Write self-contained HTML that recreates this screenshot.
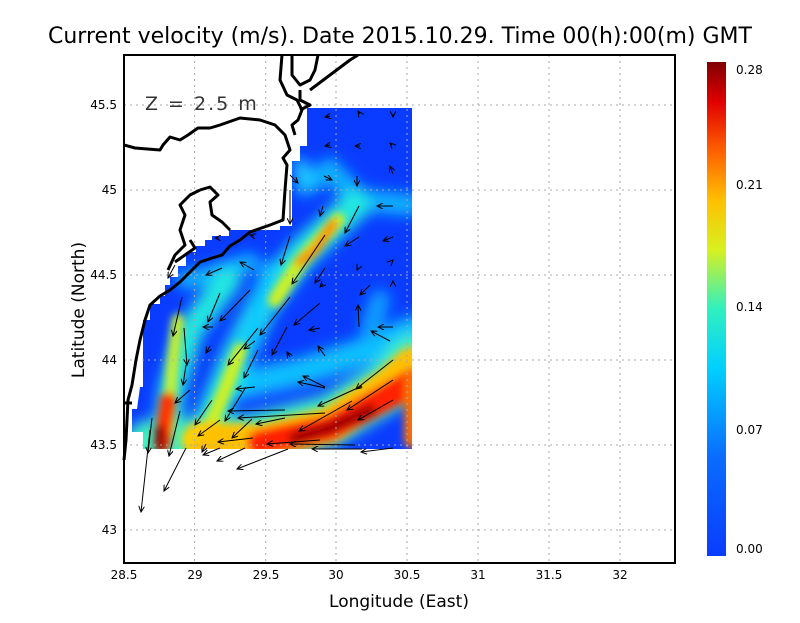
<!DOCTYPE html>
<html><head><style>
body{margin:0;background:#fff;}
svg text{font-family:"DejaVu Sans","Liberation Sans",sans-serif;}
</style></head><body>
<svg width="800" height="618" viewBox="0 0 800 618" xmlns="http://www.w3.org/2000/svg">
<defs>
<clipPath id="dc"><polygon points="307,108 412,108 412,449 143,449 143,432 132,432 132,409 137,409 140,387 143,387 143,320 150,320 150,304 160,304 160,296 165,296 165,285 170,285 170,277 178,277 178,266 186,266 186,252 196,252 196,246 205,246 205,240 212,240 212,236 229,236 229,230 280,230 280,226 292,226 292,161 300,161 300,146 307,146"/></clipPath>
<filter id="b1" x="-50%" y="-50%" width="200%" height="200%"><feGaussianBlur stdDeviation="7"/></filter>
<filter id="b2" x="-50%" y="-50%" width="200%" height="200%"><feGaussianBlur stdDeviation="4"/></filter>
<linearGradient id="cb" x1="0" y1="1" x2="0" y2="0">
<stop offset="0" stop-color="#0a3cff"/><stop offset="0.2" stop-color="#0a6cff"/><stop offset="0.38" stop-color="#00d0ff"/><stop offset="0.5" stop-color="#30f0c0"/><stop offset="0.62" stop-color="#d8f020"/><stop offset="0.72" stop-color="#ffc000"/><stop offset="0.82" stop-color="#ff6000"/><stop offset="0.92" stop-color="#e00000"/><stop offset="1" stop-color="#800000"/>
</linearGradient>
<marker id="ah" markerWidth="7" markerHeight="6" refX="6" refY="3" orient="auto" markerUnits="userSpaceOnUse"><path d="M0,0 L6,3 L0,6" fill="none" stroke="#000" stroke-width="1"/></marker>
</defs>
<text x="400" y="43" font-size="22" text-anchor="middle">Current velocity (m/s). Date 2015.10.29. Time 00(h):00(m) GMT</text>
<g clip-path="url(#dc)">
<rect x="120" y="100" width="300" height="360" fill="#0a3cff"/>
<g filter="url(#b1)" fill="none" stroke-linecap="round">
<path d="M305,185 L330,170 L360,200 L412,205" stroke="#10b0ff" stroke-width="22"/>
<path d="M300,165 L305,180" stroke="#20d0ff" stroke-width="14"/>
<path d="M412,330 L370,350 L300,372 L240,385" stroke="#10c0ff" stroke-width="28"/>
<path d="M380,300 L370,330" stroke="#10a0ff" stroke-width="20"/>
<path d="M250,262 L210,275 L185,280" stroke="#10b8ff" stroke-width="18"/>
<path d="M355,205 L300,255 L265,300 L235,360 L210,420" stroke="#20e8e0" stroke-width="30"/>
<path d="M228,280 L190,330 L172,390 L165,440" stroke="#20e8e0" stroke-width="26"/>
<path d="M270,270 L255,320 L240,360" stroke="#10c8ff" stroke-width="18"/>
<path d="M150,445 L250,440 L330,420 L390,385 L412,360" stroke="#40f0c0" stroke-width="50"/>
</g>
<g filter="url(#b2)" fill="none" stroke-linecap="round">
<path d="M338,220 L300,262 L275,300" stroke="#d0f020" stroke-width="14"/>
<path d="M333,224 L315,250 L300,262" stroke="#ff9000" stroke-width="10"/>
<path d="M178,320 L172,370 L168,430" stroke="#c8f030" stroke-width="12"/>
<path d="M240,350 L225,390 L210,425" stroke="#d0f020" stroke-width="14"/>
<path d="M200,440 L260,442 L330,425 L390,385 L412,365" stroke="#ffc000" stroke-width="36"/>
<path d="M260,443 L330,428 L390,395 L412,382" stroke="#ff2000" stroke-width="26"/>
<path d="M295,438 L330,428 L370,410" stroke="#a00000" stroke-width="12"/>
<path d="M168,400 L162,445" stroke="#ff3000" stroke-width="16"/>
<path d="M160,430 L160,448" stroke="#900000" stroke-width="10"/>
<path d="M412,380 L412,440" stroke="#ff7000" stroke-width="16"/>
<path d="M188,440 L200,430" stroke="#ffd000" stroke-width="14"/>
</g>
</g>
<g stroke="#aaa" stroke-dasharray="2,4" stroke-width="1">
<line x1="194.6" y1="55" x2="194.6" y2="563"/><line x1="265.7" y1="55" x2="265.7" y2="563"/><line x1="336" y1="55" x2="336" y2="563"/><line x1="407" y1="55" x2="407" y2="563"/><line x1="478" y1="55" x2="478" y2="563"/><line x1="549" y1="55" x2="549" y2="563"/><line x1="620" y1="55" x2="620" y2="563"/>
<line x1="124" y1="105" x2="675" y2="105"/><line x1="124" y1="190" x2="675" y2="190"/><line x1="124" y1="275" x2="675" y2="275"/><line x1="124" y1="360" x2="675" y2="360"/><line x1="124" y1="445" x2="675" y2="445"/><line x1="124" y1="530" x2="675" y2="530"/>
</g>
<g fill="none" stroke="#000" stroke-width="3" stroke-linejoin="round">
<path d="M124,145 L135,148 L160,150 L163,145 L170,137 L180,140 L188,135 L198,128 L210,128 L220,125 L240,118 L260,120 L275,125 L285,135 L290,150 L283,158 L287,165 L285,190 L283,220 L270,225 L250,232 L240,240 L230,246 L222,255 L212,258 L200,262 L190,272 L180,282 L170,290 L160,296 L150,305 L145,320 L140,340 L136,360 L132,385 L128,400 L126,440 L124,460"/>
<path d="M124,403 L132,403"/>
<path d="M282,55 L280,80 L287,95 L297,100 L302,110 L298,120 L292,125 L295,135"/>
<path d="M292,55 L292,75 L300,85 L310,80 L315,70 L318,55"/>
<path d="M310,90 L330,75 L350,60 L358,55"/>
<path d="M300,110 L310,105 L300,100 L300,90"/>
<path d="M200,190 L190,195 L180,205 L185,215 L180,230 L185,245 L175,255 L168,270"/>
<path d="M200,190 L210,187 L218,195 L210,202 L212,215 L222,222 L230,230"/>
<path d="M190,240 L195,248 L185,255 L175,262"/>
</g>
<g stroke="#000" stroke-width="1" fill="none" marker-end="url(#ah)">
<path d="M330,116 L325,117"/><path d="M360,114 L358,111"/><path d="M393,114 L393,117"/>
<path d="M330,145 L325,146"/><path d="M360,146 L355,146"/><path d="M392,145 L390,143"/>
<path d="M393,174 L390,166"/><path d="M357,176 L357,186"/><path d="M324,176 L332,180"/><path d="M290,175 L298,183"/>
<path d="M290,190 L290,224"/><path d="M393,206 L377,206"/><path d="M359,206 L345,233"/><path d="M323,206 L320,216"/>
<path d="M359,237 L345,246"/><path d="M393,237 L383,241"/><path d="M254,236 L250,235"/><path d="M219,238 L215,238"/>
<path d="M290,236 L281,265"/><path d="M325,235 L292,284"/><path d="M254,270 L240,262"/><path d="M222,268 L206,275"/>
<path d="M325,268 L315,283"/><path d="M358,268 L357,270"/><path d="M392,261 L393,260"/><path d="M175,265 L168,278"/>
<path d="M290,297 L260,335"/><path d="M320,303 L294,325"/><path d="M220,293 L208,322"/><path d="M250,290 L220,321"/>
<path d="M182,297 L173,336"/><path d="M370,285 L360,295"/><path d="M393,282 L393,281"/><path d="M359,327 L358,305"/><path d="M393,327 L378,327"/><path d="M320,328 L309,330"/><path d="M213,327 L203,327"/><path d="M323,284 L320,287"/>
<path d="M287,327 L272,355"/><path d="M258,328 L228,365"/><path d="M184,328 L187,365"/><path d="M390,341 L371,331"/><path d="M325,356 L318,346"/><path d="M290,357 L287,352"/><path d="M210,346 L206,353"/><path d="M255,341 L244,349"/><path d="M258,350 L244,378"/>
<path d="M186,365 L183,385"/><path d="M393,360 L356,389"/><path d="M393,380 L347,410"/><path d="M325,387 L303,376"/><path d="M325,388 L298,382"/><path d="M255,387 L236,389"/><path d="M190,390 L175,403"/><path d="M212,400 L195,425"/>
<path d="M246,387 L225,421"/><path d="M362,386 L318,406"/><path d="M285,410 L228,411"/><path d="M325,413 L238,418"/><path d="M285,418 L256,424"/><path d="M352,401 L299,431"/><path d="M393,400 L358,420"/><path d="M220,420 L198,436"/>
<path d="M252,419 L232,438"/><path d="M180,411 L169,456"/><path d="M152,418 L148,453"/><path d="M150,430 L141,512"/>
<path d="M253,438 L218,442"/><path d="M320,440 L267,444"/><path d="M355,445 L290,444"/><path d="M393,448 L361,452"/><path d="M362,449 L312,449"/><path d="M206,444 L202,452"/><path d="M186,448 L164,491"/><path d="M220,448 L203,455"/><path d="M245,448 L217,461"/><path d="M288,449 L237,469"/>
</g>
<rect x="124" y="55" width="551" height="508" fill="none" stroke="#000" stroke-width="2"/>
<g font-size="12" text-anchor="middle">
<text x="124" y="579">28.5</text><text x="195" y="579">29</text><text x="266" y="579">29.5</text><text x="336" y="579">30</text><text x="407" y="579">30.5</text><text x="478" y="579">31</text><text x="549" y="579">31.5</text><text x="620" y="579">32</text>
</g>
<g font-size="12" text-anchor="end">
<text x="117" y="109">45.5</text><text x="117" y="194">45</text><text x="117" y="279">44.5</text><text x="117" y="364">44</text><text x="117" y="449">43.5</text><text x="117" y="534">43</text>
</g>
<text x="145" y="110" font-size="19" fill="#333" letter-spacing="2">Z = 2.5 m</text>
<text x="399" y="607" font-size="17" text-anchor="middle">Longitude (East)</text>
<text x="0" y="0" font-size="17" text-anchor="middle" transform="translate(84,310) rotate(-90)">Latitude (North)</text>
<rect x="707" y="62" width="19" height="494" fill="url(#cb)"/>
<g font-size="12">
<text x="736" y="74">0.28</text><text x="736" y="189">0.21</text><text x="736" y="311">0.14</text><text x="736" y="434">0.07</text><text x="736" y="553">0.00</text>
</g>
</svg>
</body></html>
